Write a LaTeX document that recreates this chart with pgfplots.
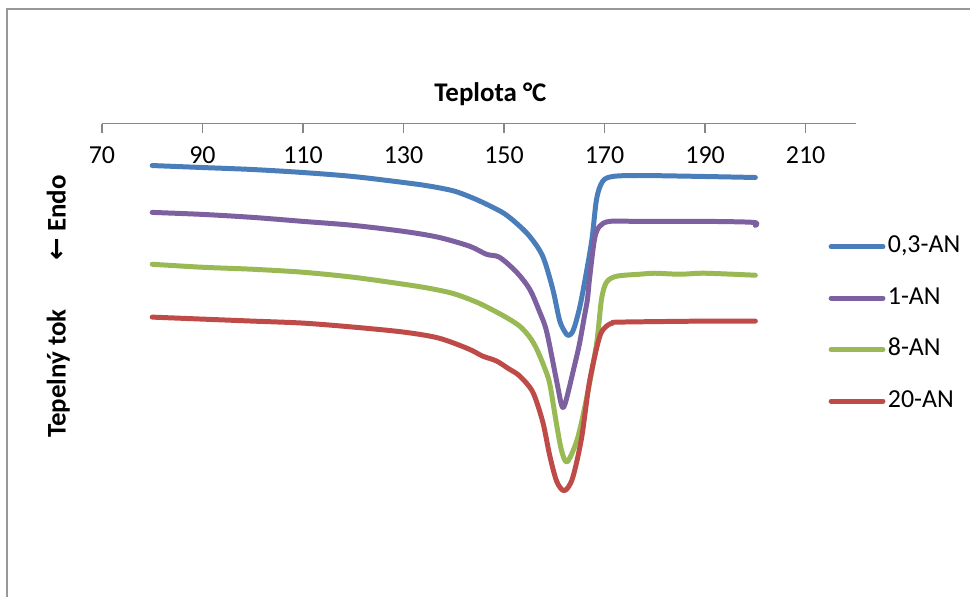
\documentclass[border=0pt]{standalone}
\usepackage{pgfplots}
\pgfplotsset{compat=1.18}
\usepackage{fontspec}
\setmainfont{Carlito}
\newfontfamily\dejavu{DejaVu Sans}
\definecolor{c1}{HTML}{4A7EBB}
\definecolor{c2}{HTML}{7D60A0}
\definecolor{c3}{HTML}{98B954}
\definecolor{c4}{HTML}{BE4B48}
\definecolor{axgray}{HTML}{868686}
\begin{document}
\begin{tikzpicture}
\begin{axis}[
  scale only axis, width=378pt, height=233pt,
  xmin=70, xmax=220, ymin=-590, ymax=-124,
  axis x line=top, axis y line=none,
  x axis line style={-, axgray, line width=0.75pt},
  xtick={70,90,...,210},
  xtick style={axgray, line width=0.75pt},
  major tick length=4.5pt,
  tick align=inside,
  xticklabel style={anchor=north, yshift=-8pt, font=\fontsize{13}{15}\selectfont},
  /pgf/number format/assume math mode=true,
  /pgf/number format/1000 sep={},
  clip=false,
  every axis plot/.append style={line width=2.5pt, smooth, line join=round, line cap=round},
  legend style={draw=none, fill=none, at={(axis cs:214.5,-235)}, anchor=north west,
    inner sep=0pt, row sep=13.8pt, font=\fontsize{13}{15}\selectfont,
    nodes={inner sep=0pt, text height=9pt, text depth=3pt},
    /tikz/every odd column/.append style={column sep=1.2pt}},
  legend cell align=left,
  legend image code/.code={\draw[#1] (0pt,0pt) -- (26pt,0pt);},
]
\addplot[c1] coordinates {
(80,-166) (90,-168) (100,-170) (110,-173) (120,-177) (130,-183) (135,-186.5)
(140,-191.5) (144,-199) (147,-206) (150,-214) (152.5,-224) (155.1,-237) (157.7,-257)
(159.7,-290) (161.1,-322) (162.4,-335) (163.0,-336) (163.6,-333) (164.3,-323)
(165.4,-300) (167.4,-243) (168.4,-200) (169.6,-182) (171.6,-177) (177,-176)
(190,-177) (200,-178)};
\addlegendentry{0,3-AN}
\addplot[c2] coordinates {
(80,-213) (90,-215) (100,-218) (110,-222) (120,-226) (130,-232) (137,-238)
(143.2,-247) (146.5,-255) (149.1,-258) (152.5,-273) (155.1,-290) (157.1,-313)
(158.5,-333) (160.5,-383) (161.5,-407) (162.2,-404) (164.0,-367) (165.0,-345)
(166.0,-317) (166.6,-300) (167.0,-280) (168.0,-240) (169.0,-227) (171,-222)
(177,-222) (190,-222) (199.6,-223) (200,-226)};
\addlegendentry{1-AN}
\addplot[c3] coordinates {
(80,-265) (90,-268) (100,-270) (110,-273) (120,-278) (130,-285) (135,-289)
(140,-294.5) (145,-304) (150,-317) (153.1,-327) (155.1,-338) (156.5,-350) (158,-368)
(159.1,-385) (160.5,-427) (161.5,-453) (162.6,-463) (164.6,-440) (166.4,-400) (168.4,-345)
(169.4,-300) (170.4,-283) (172.4,-277) (177,-275) (180,-274) (185,-275)
(190,-274) (200,-276)};
\addlegendentry{8-AN}
\addplot[c4] coordinates {
(80,-318) (90,-320) (100,-322) (110,-324) (120,-328) (130,-333) (137,-339)
(143,-350) (145.7,-357) (148.5,-362) (151,-370) (153.1,-377) (155.7,-393)
(157.7,-423) (159.1,-457) (160.5,-483) (162.0,-492) (163.6,-480) (165.4,-440)
(167.0,-383) (169.0,-338) (170.4,-327) (171.6,-324) (173.0,-323) (190,-322)
(200,-322)};
\addlegendentry{20-AN}
\path (axis cs:49.72,0) rectangle (axis cs:242.76,-599);
\draw[axgray!85, line width=0.75pt] (axis cs:51.1,-599) -- (axis cs:51.1,-9) -- (axis cs:242.76,-9);
\node[font=\bfseries\fontsize{13.5}{16}\selectfont, anchor=base] at (axis cs:147.3,-102) {Teplota °C};
\node[rotate=90, font=\bfseries\fontsize{13.5}{16}\selectfont] at (axis cs:61.3,-307.5)
  {Tepelný tok\hspace{24.5pt}{\dejavu\bfseries ←} Endo};
\end{axis}
\end{tikzpicture}
\end{document}
